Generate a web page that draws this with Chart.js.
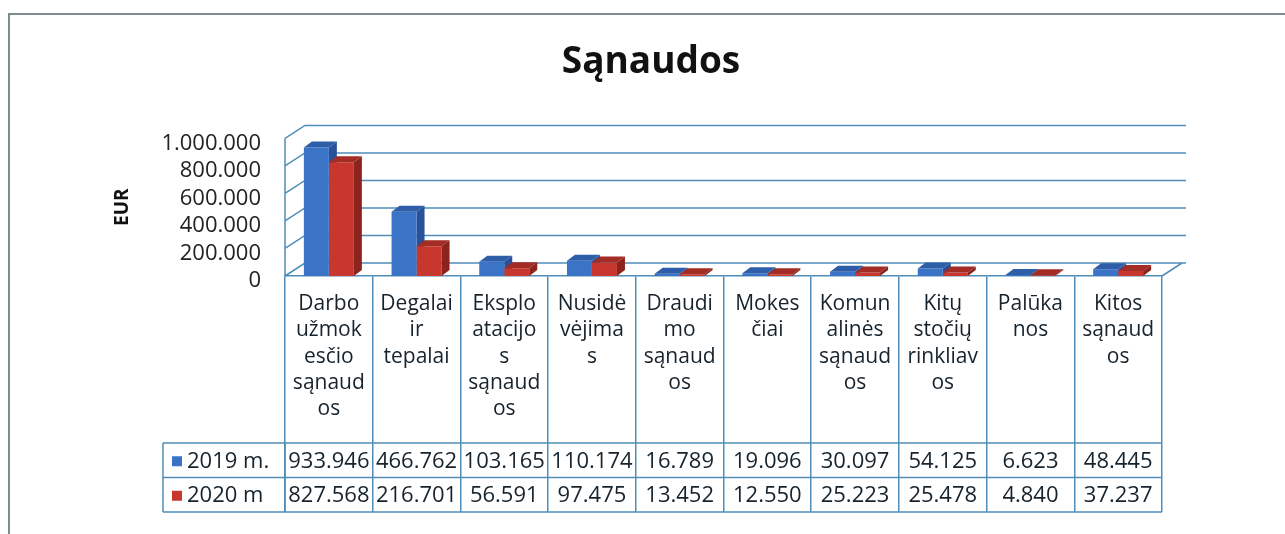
<!DOCTYPE html>
<html>
<head>
<meta charset="utf-8">
<script src="https://cdn.jsdelivr.net/npm/chart.js@4"></script>
<style>
  html, body { margin: 0; padding: 0; background: #fff; }
  #wrap { position: relative; width: 1285px; height: 534px; }
  #frame { position: absolute; left: 8px; top: 13px; right: -4px; bottom: -4px;
           border-left: 2px solid #7d8b8e; border-top: 2px solid #7d8b8e; pointer-events: none; }
  canvas { position: absolute; left: 0; top: 0; }
</style>
</head>
<body>
<div id="wrap">
  <canvas id="costChart" width="1285" height="534"></canvas>
  <div id="frame"></div>
</div>
<script>
// kategorijos (eilutės kaip lentelėje)
const categories = [
    ['Darbo', 'užmok', 'esčio', 'sąnaud', 'os'],
    ['Degalai', 'ir', 'tepalai'],
    ['Eksplo', 'atacijo', 's', 'sąnaud', 'os'],
    ['Nusidė', 'vėjima', 's'],
    ['Draudi', 'mo', 'sąnaud', 'os'],
    ['Mokes', 'čiai'],
    ['Komun', 'alinės', 'sąnaud', 'os'],
    ['Kitų', 'stočių', 'rinkliav', 'os'],
    ['Palūka', 'nos'],
    ['Kitos', 'sąnaud', 'os']
];
const seriesNames = ['2019 m.', '2020 m'];
const values2019 = [933946, 466762, 103165, 110174, 16789, 19096, 30097, 54125, 6623, 48445];
const values2020 = [827568, 216701, 56591, 97475, 13452, 12550, 25223, 25478, 4840, 37237];
const yMin = 0;
const yMax = 1000000;
const yStep = 200000;

const lineColor = '#4f8db8';
const textColor = '#16232d';
const fronts = ['#3b74c6', '#c8372d'];
const tops = ['#2f5ea8', '#a32c25'];
const sides = ['#28519a', '#8c231d'];
const WALL = { dx: 20, dy: -13 };
const BAR = { dx: 8, dy: -6 };

const fmt = v => v.toLocaleString('de-DE');

// 3D sienos ir grindys
const wallPlugin = {
    id: 'wall3d',
    beforeDatasetsDraw(chart) {
        const { ctx, chartArea: a, scales: { y } } = chart;
        ctx.save();
        ctx.strokeStyle = lineColor;
        ctx.lineWidth = 1.5;
        ctx.beginPath();
        y.ticks.forEach(t => {
            const yf = y.getPixelForValue(t.value);
            ctx.moveTo(a.left, yf);
            ctx.lineTo(a.left + WALL.dx, yf + WALL.dy);
            ctx.lineTo(a.right + WALL.dx + 4, yf + WALL.dy);
        });
        ctx.moveTo(a.left, a.top);
        ctx.lineTo(a.left, a.bottom);
        ctx.moveTo(a.right, a.bottom);
        ctx.lineTo(a.right + WALL.dx, a.bottom + WALL.dy);
        ctx.stroke();

        // 2019 stulpelių šonai (už 2020 stulpelių)
        const meta = chart.getDatasetMeta(0);
        ctx.fillStyle = sides[0];
        meta.data.forEach(b => {
            const r = b.x + b.width / 2;
            ctx.beginPath();
            ctx.moveTo(r, b.y);
            ctx.lineTo(r + BAR.dx, b.y + BAR.dy);
            ctx.lineTo(r + BAR.dx, b.base + BAR.dy);
            ctx.lineTo(r, b.base);
            ctx.closePath();
            ctx.fill();
        });
        ctx.restore();
    },
    afterDatasetsDraw(chart) {
        const { ctx } = chart;
        ctx.save();
        [1, 0].forEach(di => {
            chart.getDatasetMeta(di).data.forEach(b => {
                const l = b.x - b.width / 2;
                const r = b.x + b.width / 2;
                ctx.fillStyle = tops[di];
                ctx.beginPath();
                ctx.moveTo(l, b.y);
                ctx.lineTo(l + BAR.dx, b.y + BAR.dy);
                ctx.lineTo(r + BAR.dx, b.y + BAR.dy);
                ctx.lineTo(r, b.y);
                ctx.closePath();
                ctx.fill();
                if (di === 1) {
                    ctx.fillStyle = sides[di];
                    ctx.beginPath();
                    ctx.moveTo(r, b.y);
                    ctx.lineTo(r + BAR.dx, b.y + BAR.dy);
                    ctx.lineTo(r + BAR.dx, b.base + BAR.dy);
                    ctx.lineTo(r, b.base);
                    ctx.closePath();
                    ctx.fill();
                }
            });
        });
        ctx.restore();
    }
};

// duomenų lentelė po ašimi
const tablePlugin = {
    id: 'dataTable',
    afterDraw(chart) {
        const { ctx, chartArea: a, scales: { x } } = chart;
        const rowTop = a.bottom + 167;
        const rowH = 34.5;
        const legendLeft = 163;
        ctx.save();
        ctx.strokeStyle = lineColor;
        ctx.lineWidth = 1.5;
        ctx.beginPath();
        for (let i = 0; i <= 2; i++) {
            ctx.moveTo(legendLeft, rowTop + i * rowH);
            ctx.lineTo(a.right, rowTop + i * rowH);
        }
        ctx.moveTo(legendLeft, rowTop);
        ctx.lineTo(legendLeft, rowTop + 2 * rowH);
        ctx.moveTo(a.left, rowTop);
        ctx.lineTo(a.left, rowTop + 2 * rowH);
        ctx.stroke();

        ctx.font = '22px "Open Sans"';
        ctx.textBaseline = 'middle';
        chart.data.datasets.forEach((ds, di) => {
            const cy = rowTop + di * rowH + rowH / 2 + 1;
            ctx.fillStyle = fronts[di];
            ctx.fillRect(172, cy - 5, 10, 10);
            ctx.fillStyle = textColor;
            ctx.textAlign = 'left';
            ctx.fillText(ds.label, 187, cy);
            ctx.textAlign = 'center';
            ds.data.forEach((v, i) => {
                ctx.fillText(fmt(v), x.getPixelForValue(i), cy);
            });
        });
        ctx.restore();
    }
};

Chart.defaults.font.family = '"Open Sans", sans-serif';

new Chart(document.getElementById('costChart'), {
    type: 'bar',
    data: {
        labels: categories,
        datasets: [
            { label: seriesNames[0], data: values2019, backgroundColor: fronts[0] },
            { label: seriesNames[1], data: values2020, backgroundColor: fronts[1] }
        ]
    },
    options: {
        responsive: false,
        animation: false,
        devicePixelRatio: 1,
        layout: { padding: { left: 140, right: 123, top: 0, bottom: 0 } },
        datasets: { bar: { categoryPercentage: 0.57, barPercentage: 1.0 } },
        plugins: {
            legend: { display: false },
            tooltip: { enabled: false },
            title: {
                display: true,
                text: 'Sąnaudos',
                color: '#111',
                font: { size: 37, weight: 'bold' },
                padding: { top: 40, bottom: 54 }
            }
        },
        scales: {
            x: {
                grid: {
                    display: true,
                    offset: true,
                    drawOnChartArea: false,
                    drawTicks: true,
                    tickLength: 236,
                    color: lineColor,
                    lineWidth: 1.5
                },
                border: { display: true, color: lineColor, width: 1.5 },
                ticks: {
                    autoSkip: false,
                    maxRotation: 0,
                    minRotation: 0,
                    padding: -221,
                    color: textColor,
                    font: { size: 21, lineHeight: 1.25 }
                },
                afterFit: s => { s.height = 258; }
            },
            y: {
                min: yMin,
                max: yMax,
                grid: { display: false, drawTicks: false },
                border: { display: false },
                ticks: {
                    stepSize: yStep,
                    autoSkip: false,
                    maxTicksLimit: 11,
                    padding: 24,
                    labelOffset: 5,
                    color: '#222',
                    font: { size: 22, lineHeight: 1 },
                    callback: v => fmt(v)
                },
                title: {
                    display: true,
                    text: 'EUR',
                    color: '#111',
                    font: { size: 19, weight: 'bold' },
                    padding: { top: -29 }
                },
                afterFit: s => { s.width = 145; }
            }
        }
    },
    plugins: [wallPlugin, tablePlugin]
});
</script>
</body>
</html>
